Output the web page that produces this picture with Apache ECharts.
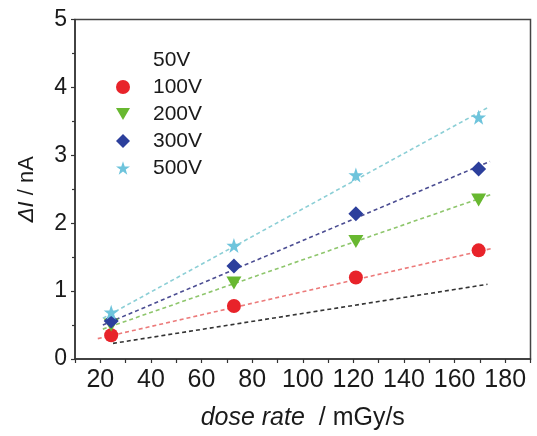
<!DOCTYPE html>
<html>
<head>
<meta charset="utf-8">
<script src="https://cdn.jsdelivr.net/npm/echarts@6/dist/echarts.min.js"></script>
<style>
html,body{margin:0;padding:0;background:#fff;}
#chart{width:537px;height:436px;}
</style>
</head>
<body>
<div id="chart"></div>
<script>
// Data
const doseRate = [24.3, 72.8, 121, 169.5];
const seriesNames = ['50V', '100V', '200V', '300V', '500V'];
const dI100 = [0.35, 0.78, 1.20, 1.60];
const dI200 = [0.50, 1.12, 1.73, 2.34];
const dI300 = [0.56, 1.37, 2.14, 2.80];
const dI500 = [0.69, 1.67, 2.71, 3.56];
// fitted lines: [x, y] end points
const fit50 = [[25, 0.23], [173, 1.10]];
const fit100 = [[19, 0.30], [175, 1.63]];
const fit200 = [[21, 0.44], [175, 2.43]];
const fit300 = [[21, 0.50], [174, 2.91]];
const fit500 = [[21, 0.60], [173, 3.70]];
const xTickLabels = [20, 40, 60, 80, 100, 120, 140, 160, 180];
const yTickLabels = [0, 1, 2, 3, 4, 5];

const FONT = 'Liberation Sans, Arial, sans-serif';
const starPath = 'path://M50,0 L61.8,35.1 L98.1,35.1 L68.8,56.8 L79.4,91.9 L50,70.3 L20.6,91.9 L31.2,56.8 L1.9,35.1 L38.2,35.1 Z';
const triDown = 'path://M0,0 L100,0 L50,86 Z';
const diamond = 'path://M50,0 L100,50 L50,100 L0,50 Z';

function pts(ys) { return doseRate.map((x, i) => [x, ys[i]]); }

function fitLine(name, data, color) {
  return {
    name: name, type: 'line', data: data, showSymbol: false, symbol: 'none',
    silent: true, z: 2,
    lineStyle: { color: color, width: 1.6, type: [4, 3] },
    itemStyle: { color: color }
  };
}
function scatter(name, data, symbol, size, color) {
  return {
    name: name, type: 'scatter', data: data, symbol: symbol, symbolSize: size,
    z: 3, itemStyle: { color: color, opacity: 1 }
  };
}

const chart = echarts.init(document.getElementById('chart'), null, { renderer: 'canvas' });
chart.setOption({
  animation: false,
  backgroundColor: '#ffffff',
  grid: {
    left: 75, top: 19.5, right: 6.5, bottom: 74,
    show: true, borderColor: '#444', borderWidth: 1.5, backgroundColor: 'transparent'
  },
  legend: {
    orient: 'vertical',
    left: 111, top: 44,
    itemWidth: 14, itemHeight: 14, itemGap: 5,
    data: [
      { name: seriesNames[0], icon: 'none' },
      { name: seriesNames[1] },
      { name: seriesNames[2] },
      { name: seriesNames[3] },
      { name: seriesNames[4] }
    ],
    formatter: function (n) { return '{g|}' + n; },
    textStyle: {
      fontFamily: FONT, fontSize: 21, color: '#1a1a1a', lineHeight: 22,
      rich: { g: { width: 18 } }
    },
    selectedMode: false
  },
  xAxis: {
    type: 'value', min: 10, max: 190, interval: 10,
    name: '{i|dose rate}{n|  / mGy/s}',
    nameLocation: 'middle', nameGap: 47,
    nameTextStyle: {
      rich: {
        i: { fontFamily: FONT, fontSize: 25, fontStyle: 'italic', color: '#1a1a1a' },
        n: { fontFamily: FONT, fontSize: 25, color: '#1a1a1a' }
      }
    },
    axisLine: { show: true, lineStyle: { color: '#333', width: 1.5 } },
    axisTick: { show: true, inside: false, length: 4, lineStyle: { color: '#333', width: 1.2 } },
    axisLabel: {
      fontFamily: FONT, fontSize: 25, color: '#1a1a1a', margin: 9,
      formatter: function (v) { return xTickLabels.indexOf(v) >= 0 ? String(v) : ''; }
    },
    splitLine: { show: false }
  },
  yAxis: {
    type: 'value', min: 0, max: 5, interval: 1,
    name: '{i|ΔI}{n| / nA}',
    nameLocation: 'middle', nameGap: 37, nameRotate: 90,
    nameTextStyle: {
      rich: {
        i: { fontFamily: FONT, fontSize: 22, fontStyle: 'italic', color: '#1a1a1a' },
        n: { fontFamily: FONT, fontSize: 22, color: '#1a1a1a' }
      }
    },
    axisLine: { show: true, lineStyle: { color: '#333', width: 1.5 } },
    axisTick: { show: true, inside: false, length: 4, lineStyle: { color: '#333', width: 1.2 } },
    minorTick: { show: true, splitNumber: 2, length: 3, lineStyle: { color: '#333', width: 1.2 } },
    axisLabel: {
      fontFamily: FONT, fontSize: 23, color: '#1a1a1a', margin: 8,
      formatter: function (v) { return yTickLabels.indexOf(v) >= 0 ? String(v) : ''; }
    },
    splitLine: { show: false }
  },
  series: [
    fitLine('50V', fit50, '#333333'),
    fitLine('100V fit', fit100, '#ec7a7a'),
    fitLine('200V fit', fit200, '#8ec66c'),
    fitLine('300V fit', fit300, '#4b4d92'),
    fitLine('500V fit', fit500, '#8ccfd6'),
    scatter('100V', pts(dI100), 'circle', 14, '#e8232a'),
    scatter('200V', pts(dI200), triDown, [15, 13], '#68b830'),
    scatter('300V', pts(dI300), diamond, 15, '#2c3f9c'),
    scatter('500V', pts(dI500), starPath, 15, '#6ec4dc')
  ]
});
</script>
</body>
</html>
